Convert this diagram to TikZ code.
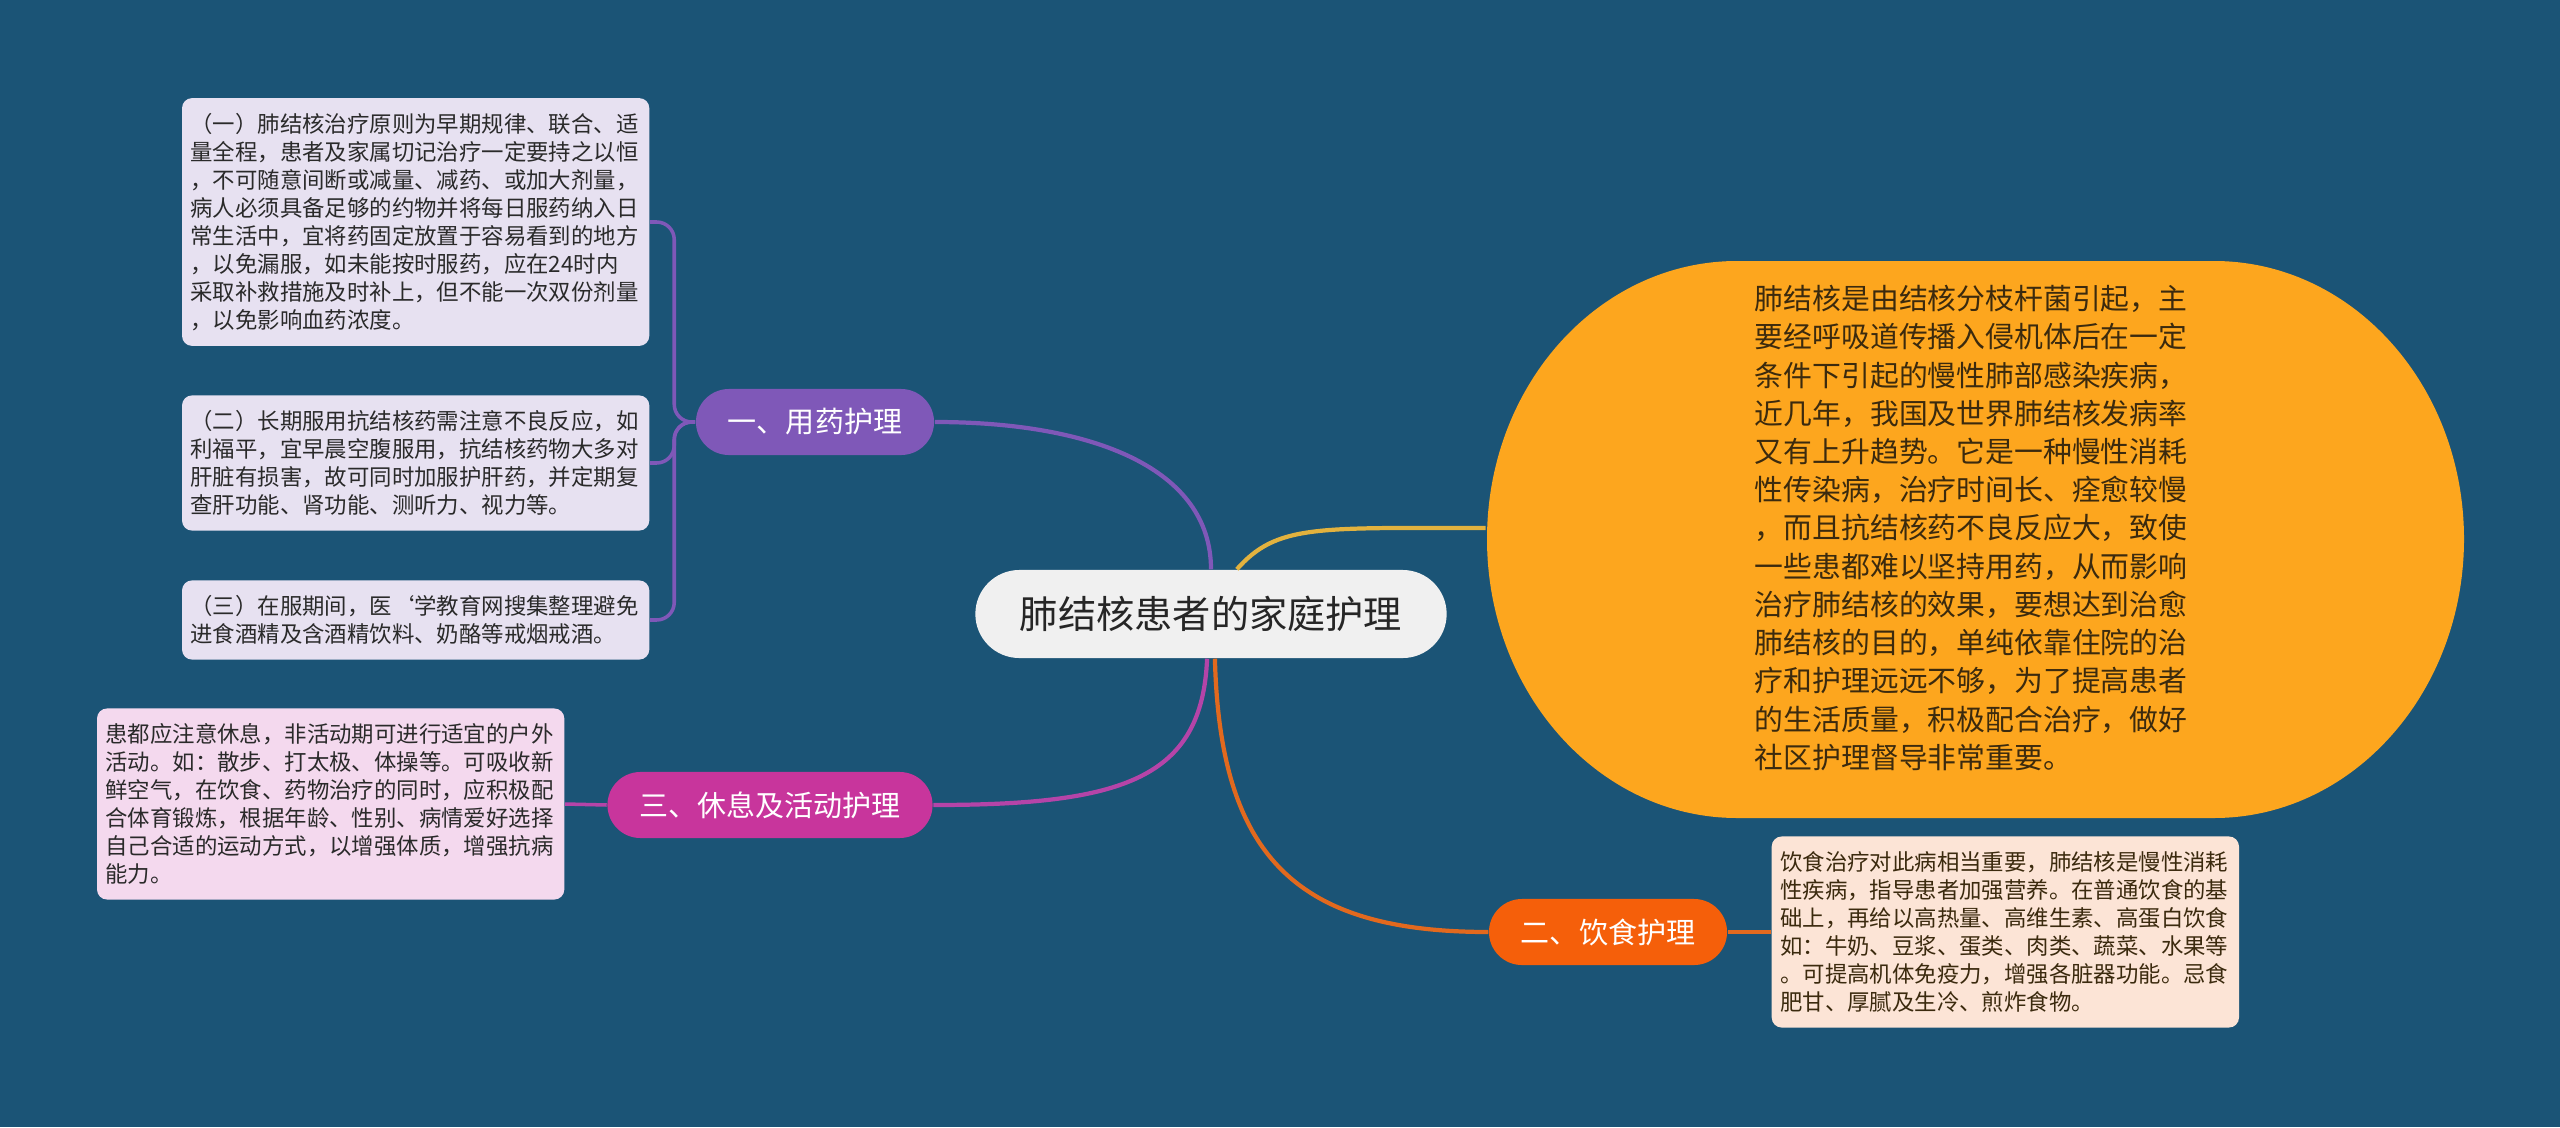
\documentclass[tikz,border=0pt]{standalone}
\usepackage{fontspec}
\setmainfont{Noto Sans CJK SC}
\usepackage{tikz}

\definecolor{bg}{HTML}{1B5476}
\definecolor{rootfill}{HTML}{F0F0F0}
\definecolor{purp}{HTML}{7F58B8}
\definecolor{mag}{HTML}{C8359C}
\definecolor{org}{HTML}{F55F0A}
\definecolor{orgline}{HTML}{E2691E}
\definecolor{magline}{HTML}{B544A8}
\definecolor{gold}{HTML}{E2B23E}
\definecolor{sumfill}{HTML}{FDA61E}
\definecolor{sumtext}{HTML}{3B2A0E}
\definecolor{lav}{HTML}{E7E1F1}
\definecolor{pink}{HTML}{F4D9EE}
\definecolor{peach}{HTML}{FCE4D6}
\definecolor{leaftext}{HTML}{2A2A2A}

\begin{document}
\begin{tikzpicture}[x=0.01cm,y=-0.01cm,
    leaf/.style={rounded corners=0.1cm, text width=4.5cm, align=left, inner xsep=0.085cm, inner ysep=0.15cm,
        font=\fontsize{6.37}{7.97}\selectfont, text=leaftext},
    branch/.style={rounded corners=0.33cm, minimum height=0.66cm, inner xsep=0.32cm, text=white,
        font=\fontsize{8.25}{10}\selectfont},
    link/.style={line width=1.2pt},
    leaflink/.style={line width=1pt, rounded corners=5pt}]
    %background
    \fill[bg] (0,0) rectangle (2560,1127);
    \useasboundingbox (0,0) rectangle (2560,1127);

    %central node
    \node[fill=rootfill, rounded corners=0.44cm, minimum height=0.88cm, inner xsep=0.445cm,
        text=black!85, font=\fontsize{10.87}{13}\selectfont] (root) at (1211,614) {肺结核患者的家庭护理};

    %summary shape (oval with flat top and bottom)
    \fill[sumfill] (1737,261) -- (2214,261)
        .. controls (2352,261) and (2464,385) .. (2464,539)
        .. controls (2464,693) and (2352,818) .. (2214,818)
        -- (1737,818)
        .. controls (1599,818) and (1487,693) .. (1487,539)
        .. controls (1487,385) and (1599,261) .. cycle;
    \node[minimum width=9.77cm, minimum height=5.4cm, text width=4.4cm, align=left, text=sumtext,
        font=\fontsize{8.2}{10.87}\selectfont] (sum) at (1975,528)
        {肺结核是由结核分枝杆菌引起，主\\要经呼吸道传播入侵机体后在一定\\条件下引起的慢性肺部感染疾病，\\近几年，我国及世界肺结核发病率\\又有上升趋势。它是一种慢性消耗\\性传染病，治疗时间长、痊愈较慢\\，而且抗结核药不良反应大，致使\\一些患都难以坚持用药，从而影响\\治疗肺结核的效果，要想达到治愈\\肺结核的目的，单纯依靠住院的治\\疗和护理远远不够，为了提高患者\\的生活质量，积极配合治疗，做好\\社区护理督导非常重要。};

    %branches
    \node[branch, fill=purp] (b1) at (815,422) {一、用药护理};
    \node[branch, fill=org] (b2) at (1608,932) {二、饮食护理};
    \node[branch, fill=mag] (b3) at (770,805) {三、休息及活动护理};

    %leaves
    \node[leaf, fill=lav, anchor=east] (l1) at (650,222)
        {（一）肺结核治疗原则为早期规律、联合、适\\量全程，患者及家属切记治疗一定要持之以恒\\，不可随意间断或减量、减药、或加大剂量，\\病人必须具备足够的约物并将每日服药纳入日\\常生活中，宜将药固定放置于容易看到的地方\\，以免漏服，如未能按时服药，应在24时内\\采取补救措施及时补上，但不能一次双份剂量\\，以免影响血药浓度。};
    \node[leaf, fill=lav, anchor=east] (l2) at (650,463)
        {（二）长期服用抗结核药需注意不良反应，如\\利福平，宜早晨空腹服用，抗结核药物大多对\\肝脏有损害，故可同时加服护肝药，并定期复\\查肝功能、肾功能、测听力、视力等。};
    \node[leaf, fill=lav, anchor=east] (l3) at (650,620)
        {（三）在服期间，医`学教育网搜集整理避免\\进食酒精及含酒精饮料、奶酪等戒烟戒酒。};
    \node[leaf, fill=pink, anchor=east] (l4) at (565,804)
        {患都应注意休息，非活动期可进行适宜的户外\\活动。如：散步、打太极、体操等。可吸收新\\鲜空气，在饮食、药物治疗的同时，应积极配\\合体育锻炼，根据年龄、性别、病情爱好选择\\自己合适的运动方式，以增强体质，增强抗病\\能力。};
    \node[leaf, fill=peach, anchor=west, text=sumtext] (l5) at (1771,932)
        {饮食治疗对此病相当重要，肺结核是慢性消耗\\性疾病，指导患者加强营养。在普通饮食的基\\础上，再给以高热量、高维生素、高蛋白饮食\\如：牛奶、豆浆、蛋类、肉类、蔬菜、水果等\\。可提高机体免疫力，增强各脏器功能。忌食\\肥甘、厚腻及生冷、煎炸食物。};

    %lines from the centre
    \draw[link,purp] (root.north) .. controls +(0,-100) and +(160,0) .. (b1.east);
    \draw[link,gold] (root.60) .. controls +(40,-45) and +(-170,0) .. (sum.west);
    \draw[link,magline] (root.-95) .. controls +(-5,120) and +(190,0) .. (b3.east);
    \draw[link,orgline] (root.-85) .. controls +(5,200) and +(-190,0) .. (b2.west);

    %lines to the leaves
    \draw[leaflink,purp] (b1.west) -- ++(-21,0) |- (l1.east);
    \draw[leaflink,purp] (b1.west) -- ++(-21,0) |- (l2.east);
    \draw[leaflink,purp] (b1.west) -- ++(-21,0) |- (l3.east);
    \draw[leaflink,magline] (b3.west) -- (l4.east);
    \draw[leaflink,orgline] (b2.east) -- (l5.west);
\end{tikzpicture}
\end{document}
